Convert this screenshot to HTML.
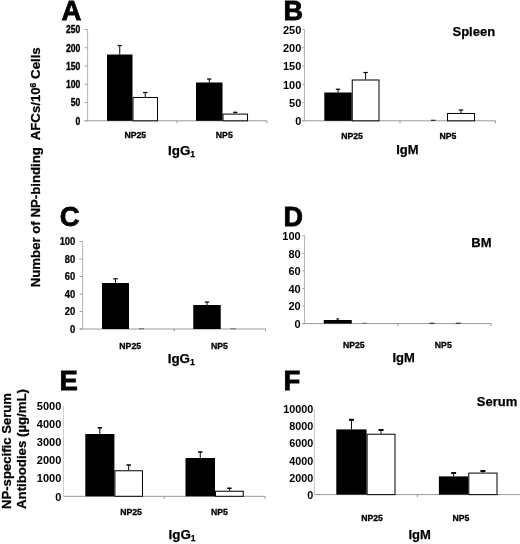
<!DOCTYPE html>
<html><head><meta charset="utf-8"><title>Figure</title>
<style>
html,body{margin:0;padding:0;background:#fff;}
body{width:520px;height:544px;overflow:hidden;}
svg{display:block;will-change:transform;font-family:"Liberation Sans",sans-serif;fill:#000;}
</style></head><body>
<svg width="520" height="544" viewBox="0 0 520 544">
<rect x="0" y="0" width="520" height="544" fill="#fff"/>
<line x1="87.6" y1="29.5" x2="87.6" y2="120.8" stroke="#b4b4b4" stroke-width="1"/>
<line x1="84.6" y1="120.8" x2="267" y2="120.8" stroke="#989898" stroke-width="1"/>
<line x1="177" y1="120.8" x2="177" y2="123.3" stroke="#989898" stroke-width="1"/>
<line x1="267" y1="120.8" x2="267" y2="123.3" stroke="#989898" stroke-width="1"/>
<line x1="84.6" y1="29.5" x2="87.6" y2="29.5" stroke="#a0a0a0" stroke-width="1"/>
<text transform="translate(80.3,33.35) scale(0.86,1)" text-anchor="end" font-size="10" font-weight="bold" stroke="#000" stroke-width="0.35">250</text>
<line x1="84.6" y1="47.76" x2="87.6" y2="47.76" stroke="#a0a0a0" stroke-width="1"/>
<text transform="translate(80.3,51.61) scale(0.86,1)" text-anchor="end" font-size="10" font-weight="bold" stroke="#000" stroke-width="0.35">200</text>
<line x1="84.6" y1="66.02" x2="87.6" y2="66.02" stroke="#a0a0a0" stroke-width="1"/>
<text transform="translate(80.3,69.87) scale(0.86,1)" text-anchor="end" font-size="10" font-weight="bold" stroke="#000" stroke-width="0.35">150</text>
<line x1="84.6" y1="84.28" x2="87.6" y2="84.28" stroke="#a0a0a0" stroke-width="1"/>
<text transform="translate(80.3,88.13) scale(0.86,1)" text-anchor="end" font-size="10" font-weight="bold" stroke="#000" stroke-width="0.35">100</text>
<line x1="84.6" y1="102.54" x2="87.6" y2="102.54" stroke="#a0a0a0" stroke-width="1"/>
<text transform="translate(80.3,106.39) scale(0.86,1)" text-anchor="end" font-size="10" font-weight="bold" stroke="#000" stroke-width="0.35">50</text>
<line x1="84.6" y1="120.8" x2="87.6" y2="120.8" stroke="#a0a0a0" stroke-width="1"/>
<text transform="translate(80.3,124.65) scale(0.86,1)" text-anchor="end" font-size="10" font-weight="bold" stroke="#000" stroke-width="0.35">0</text>
<rect x="107" y="54.5" width="25.5" height="66.3" fill="#000"/>
<line x1="119.75" y1="45.5" x2="119.75" y2="54.5" stroke="#000" stroke-width="1"/>
<line x1="117.55" y1="45.5" x2="121.95" y2="45.5" stroke="#000" stroke-width="1.2"/>
<rect x="133" y="97.5" width="24.5" height="23.3" fill="#fff" stroke="#0a0a0a" stroke-width="1.05"/>
<line x1="145.25" y1="92.5" x2="145.25" y2="97" stroke="#000" stroke-width="1"/>
<line x1="143.05" y1="92.5" x2="147.45" y2="92.5" stroke="#000" stroke-width="1.2"/>
<rect x="196" y="82.5" width="26.5" height="38.3" fill="#000"/>
<line x1="209.25" y1="79" x2="209.25" y2="82.5" stroke="#000" stroke-width="1"/>
<line x1="207.05" y1="79" x2="211.45" y2="79" stroke="#000" stroke-width="1.2"/>
<rect x="223" y="114.1" width="24.5" height="6.7" fill="#fff" stroke="#0a0a0a" stroke-width="1.05"/>
<line x1="235.25" y1="112.3" x2="235.25" y2="113.6" stroke="#000" stroke-width="1"/>
<line x1="233.05" y1="112.3" x2="237.45" y2="112.3" stroke="#000" stroke-width="1.2"/>
<line x1="304.5" y1="29.5" x2="304.5" y2="120.8" stroke="#b4b4b4" stroke-width="1"/>
<line x1="302.3" y1="120.8" x2="495.5" y2="120.8" stroke="#989898" stroke-width="1"/>
<line x1="400" y1="120.8" x2="400" y2="123.3" stroke="#989898" stroke-width="1"/>
<line x1="495.5" y1="120.8" x2="495.5" y2="123.3" stroke="#989898" stroke-width="1"/>
<line x1="302.3" y1="29.5" x2="304.5" y2="29.5" stroke="#a0a0a0" stroke-width="1"/>
<text x="301.3" y="33.73" text-anchor="end" font-size="11" font-weight="bold">250</text>
<line x1="302.3" y1="47.76" x2="304.5" y2="47.76" stroke="#a0a0a0" stroke-width="1"/>
<text x="301.3" y="51.99" text-anchor="end" font-size="11" font-weight="bold">200</text>
<line x1="302.3" y1="66.02" x2="304.5" y2="66.02" stroke="#a0a0a0" stroke-width="1"/>
<text x="301.3" y="70.25" text-anchor="end" font-size="11" font-weight="bold">150</text>
<line x1="302.3" y1="84.28" x2="304.5" y2="84.28" stroke="#a0a0a0" stroke-width="1"/>
<text x="301.3" y="88.52" text-anchor="end" font-size="11" font-weight="bold">100</text>
<line x1="302.3" y1="102.54" x2="304.5" y2="102.54" stroke="#a0a0a0" stroke-width="1"/>
<text x="301.3" y="106.77" text-anchor="end" font-size="11" font-weight="bold">50</text>
<line x1="302.3" y1="120.8" x2="304.5" y2="120.8" stroke="#a0a0a0" stroke-width="1"/>
<text x="301.3" y="125.03" text-anchor="end" font-size="11" font-weight="bold">0</text>
<rect x="324.3" y="92.5" width="27.45" height="28.3" fill="#000"/>
<line x1="338.02" y1="89.25" x2="338.02" y2="92.5" stroke="#000" stroke-width="1"/>
<line x1="335.82" y1="89.25" x2="340.22" y2="89.25" stroke="#000" stroke-width="1.2"/>
<rect x="352.25" y="80" width="26.75" height="40.8" fill="#fff" stroke="#0a0a0a" stroke-width="1.05"/>
<line x1="365.62" y1="72.5" x2="365.62" y2="79.5" stroke="#000" stroke-width="1"/>
<line x1="363.43" y1="72.5" x2="367.82" y2="72.5" stroke="#000" stroke-width="1.2"/>
<rect x="447.5" y="113.5" width="27" height="7.3" fill="#fff" stroke="#0a0a0a" stroke-width="1.05"/>
<line x1="461" y1="110" x2="461" y2="113" stroke="#000" stroke-width="1"/>
<line x1="458.8" y1="110" x2="463.2" y2="110" stroke="#000" stroke-width="1.2"/>
<line x1="431" y1="120.3" x2="435.5" y2="120.3" stroke="#222" stroke-width="1.2"/>
<line x1="82.6" y1="241.5" x2="82.6" y2="329" stroke="#b4b4b4" stroke-width="1"/>
<line x1="79.6" y1="329" x2="265.5" y2="329" stroke="#989898" stroke-width="1"/>
<line x1="174.25" y1="329" x2="174.25" y2="331.5" stroke="#989898" stroke-width="1"/>
<line x1="265.5" y1="329" x2="265.5" y2="331.5" stroke="#989898" stroke-width="1"/>
<line x1="79.6" y1="241.5" x2="82.6" y2="241.5" stroke="#a0a0a0" stroke-width="1"/>
<text transform="translate(75.3,245.35) scale(0.94,1)" text-anchor="end" font-size="10" font-weight="bold" stroke="#000" stroke-width="0.25">100</text>
<line x1="79.6" y1="259" x2="82.6" y2="259" stroke="#a0a0a0" stroke-width="1"/>
<text transform="translate(75.3,262.85) scale(0.94,1)" text-anchor="end" font-size="10" font-weight="bold" stroke="#000" stroke-width="0.25">80</text>
<line x1="79.6" y1="276.5" x2="82.6" y2="276.5" stroke="#a0a0a0" stroke-width="1"/>
<text transform="translate(75.3,280.35) scale(0.94,1)" text-anchor="end" font-size="10" font-weight="bold" stroke="#000" stroke-width="0.25">60</text>
<line x1="79.6" y1="294" x2="82.6" y2="294" stroke="#a0a0a0" stroke-width="1"/>
<text transform="translate(75.3,297.85) scale(0.94,1)" text-anchor="end" font-size="10" font-weight="bold" stroke="#000" stroke-width="0.25">40</text>
<line x1="79.6" y1="311.5" x2="82.6" y2="311.5" stroke="#a0a0a0" stroke-width="1"/>
<text transform="translate(75.3,315.35) scale(0.94,1)" text-anchor="end" font-size="10" font-weight="bold" stroke="#000" stroke-width="0.25">20</text>
<line x1="79.6" y1="329" x2="82.6" y2="329" stroke="#a0a0a0" stroke-width="1"/>
<text transform="translate(75.3,332.85) scale(0.94,1)" text-anchor="end" font-size="10" font-weight="bold" stroke="#000" stroke-width="0.25">0</text>
<rect x="102" y="283" width="27" height="46" fill="#000"/>
<line x1="115.5" y1="278.75" x2="115.5" y2="283" stroke="#000" stroke-width="1"/>
<line x1="113.3" y1="278.75" x2="117.7" y2="278.75" stroke="#000" stroke-width="1.2"/>
<rect x="193.25" y="305" width="27.5" height="24" fill="#000"/>
<line x1="207" y1="302" x2="207" y2="305" stroke="#000" stroke-width="1"/>
<line x1="204.8" y1="302" x2="209.2" y2="302" stroke="#000" stroke-width="1.2"/>
<line x1="139" y1="328.7" x2="144" y2="328.7" stroke="#777" stroke-width="1.2"/>
<line x1="230.5" y1="328.7" x2="235.75" y2="328.7" stroke="#777" stroke-width="1.2"/>
<line x1="304.5" y1="235.75" x2="304.5" y2="323.6" stroke="#b4b4b4" stroke-width="1"/>
<line x1="302.3" y1="323.6" x2="491.25" y2="323.6" stroke="#989898" stroke-width="1"/>
<line x1="398" y1="323.6" x2="398" y2="326.1" stroke="#989898" stroke-width="1"/>
<line x1="491.25" y1="323.6" x2="491.25" y2="326.1" stroke="#989898" stroke-width="1"/>
<line x1="302.3" y1="235.75" x2="304.5" y2="235.75" stroke="#a0a0a0" stroke-width="1"/>
<text x="300.7" y="239.99" text-anchor="end" font-size="11" font-weight="bold">100</text>
<line x1="302.3" y1="253.32" x2="304.5" y2="253.32" stroke="#a0a0a0" stroke-width="1"/>
<text x="300.7" y="257.56" text-anchor="end" font-size="11" font-weight="bold">80</text>
<line x1="302.3" y1="270.89" x2="304.5" y2="270.89" stroke="#a0a0a0" stroke-width="1"/>
<text x="300.7" y="275.12" text-anchor="end" font-size="11" font-weight="bold">60</text>
<line x1="302.3" y1="288.46" x2="304.5" y2="288.46" stroke="#a0a0a0" stroke-width="1"/>
<text x="300.7" y="292.7" text-anchor="end" font-size="11" font-weight="bold">40</text>
<line x1="302.3" y1="306.03" x2="304.5" y2="306.03" stroke="#a0a0a0" stroke-width="1"/>
<text x="300.7" y="310.27" text-anchor="end" font-size="11" font-weight="bold">20</text>
<line x1="302.3" y1="323.6" x2="304.5" y2="323.6" stroke="#a0a0a0" stroke-width="1"/>
<text x="300.7" y="327.84" text-anchor="end" font-size="11" font-weight="bold">0</text>
<rect x="323.75" y="320" width="28" height="3.6" fill="#000"/>
<line x1="337.75" y1="318.9" x2="337.75" y2="320" stroke="#000" stroke-width="1"/>
<line x1="336.25" y1="318.9" x2="339.25" y2="318.9" stroke="#000" stroke-width="1.0"/>
<line x1="362.5" y1="323.3" x2="367" y2="323.3" stroke="#777" stroke-width="1.2"/>
<line x1="429.5" y1="323.3" x2="434.5" y2="323.3" stroke="#333" stroke-width="1.2"/>
<line x1="455.75" y1="323.3" x2="460.75" y2="323.3" stroke="#333" stroke-width="1.2"/>
<line x1="63.4" y1="406" x2="63.4" y2="496.3" stroke="#c8c8c8" stroke-width="1"/>
<line x1="63.4" y1="496.3" x2="265" y2="496.3" stroke="#989898" stroke-width="1"/>
<line x1="164.25" y1="496.3" x2="164.25" y2="498.8" stroke="#989898" stroke-width="1"/>
<line x1="265" y1="496.3" x2="265" y2="498.8" stroke="#989898" stroke-width="1"/>
<text x="61.3" y="410.24" text-anchor="end" font-size="11" font-weight="bold">5000</text>
<text x="61.3" y="428.3" text-anchor="end" font-size="11" font-weight="bold">4000</text>
<text x="61.3" y="446.36" text-anchor="end" font-size="11" font-weight="bold">3000</text>
<text x="61.3" y="464.42" text-anchor="end" font-size="11" font-weight="bold">2000</text>
<text x="61.3" y="482.48" text-anchor="end" font-size="11" font-weight="bold">1000</text>
<text x="61.3" y="500.54" text-anchor="end" font-size="11" font-weight="bold">0</text>
<rect x="85.3" y="434" width="29.1" height="62.3" fill="#000"/>
<line x1="99.85" y1="427.75" x2="99.85" y2="434" stroke="#000" stroke-width="1"/>
<line x1="97.65" y1="427.75" x2="102.05" y2="427.75" stroke="#000" stroke-width="1.5"/>
<rect x="114.9" y="470.75" width="27.6" height="25.55" fill="#fff" stroke="#0a0a0a" stroke-width="1.05"/>
<line x1="128.7" y1="465" x2="128.7" y2="470.25" stroke="#000" stroke-width="1"/>
<line x1="126.5" y1="465" x2="130.9" y2="465" stroke="#000" stroke-width="1.5"/>
<rect x="185.5" y="458" width="29.5" height="38.3" fill="#000"/>
<line x1="200.25" y1="452" x2="200.25" y2="458" stroke="#000" stroke-width="1"/>
<line x1="198.05" y1="452" x2="202.45" y2="452" stroke="#000" stroke-width="1.5"/>
<rect x="215.5" y="491.25" width="27.75" height="5.05" fill="#fff" stroke="#0a0a0a" stroke-width="1.05"/>
<line x1="229.38" y1="488.25" x2="229.38" y2="490.75" stroke="#000" stroke-width="1"/>
<line x1="227.18" y1="488.25" x2="231.57" y2="488.25" stroke="#000" stroke-width="1.5"/>
<line x1="314.4" y1="409" x2="314.4" y2="494.6" stroke="#c4c4c4" stroke-width="1"/>
<line x1="314.4" y1="494.6" x2="520.5" y2="494.6" stroke="#989898" stroke-width="1"/>
<line x1="417.5" y1="494.6" x2="417.5" y2="497.1" stroke="#989898" stroke-width="1"/>
<line x1="520.5" y1="494.6" x2="520.5" y2="497.1" stroke="#989898" stroke-width="1"/>
<text x="313.3" y="413.16" text-anchor="end" font-size="10.8" font-weight="bold">10000</text>
<text x="313.3" y="430.28" text-anchor="end" font-size="10.8" font-weight="bold">8000</text>
<text x="313.3" y="447.4" text-anchor="end" font-size="10.8" font-weight="bold">6000</text>
<text x="313.3" y="464.52" text-anchor="end" font-size="10.8" font-weight="bold">4000</text>
<text x="313.3" y="481.64" text-anchor="end" font-size="10.8" font-weight="bold">2000</text>
<text x="313.3" y="498.76" text-anchor="end" font-size="10.8" font-weight="bold">0</text>
<rect x="336.3" y="429.4" width="30.3" height="65.2" fill="#000"/>
<line x1="351.45" y1="419.8" x2="351.45" y2="429.4" stroke="#000" stroke-width="1"/>
<line x1="348.95" y1="419.8" x2="353.95" y2="419.8" stroke="#000" stroke-width="2"/>
<rect x="367.1" y="434.25" width="27.9" height="60.35" fill="#fff" stroke="#0a0a0a" stroke-width="1.05"/>
<line x1="381.05" y1="430" x2="381.05" y2="433.75" stroke="#000" stroke-width="1"/>
<line x1="378.55" y1="430" x2="383.55" y2="430" stroke="#000" stroke-width="2"/>
<rect x="438.9" y="476.4" width="29.4" height="18.2" fill="#000"/>
<line x1="453.6" y1="473" x2="453.6" y2="476.4" stroke="#000" stroke-width="1"/>
<line x1="451.1" y1="473" x2="456.1" y2="473" stroke="#000" stroke-width="2"/>
<rect x="468.8" y="473.1" width="28.2" height="21.5" fill="#fff" stroke="#0a0a0a" stroke-width="1.05"/>
<line x1="482.9" y1="471" x2="482.9" y2="472.6" stroke="#000" stroke-width="1"/>
<line x1="480.4" y1="471" x2="485.4" y2="471" stroke="#000" stroke-width="2"/>
<text x="61.6" y="20.3" font-size="27.5" font-weight="bold" text-anchor="start" stroke="#000" stroke-width="0.8" stroke-linejoin="miter">A</text>
<text x="283.4" y="20.3" font-size="27" font-weight="bold" text-anchor="start" stroke="#000" stroke-width="0.8" stroke-linejoin="miter">B</text>
<text x="59.8" y="225.8" font-size="27.5" font-weight="bold" text-anchor="start" stroke="#000" stroke-width="0.8" stroke-linejoin="miter">C</text>
<text x="283.4" y="226" font-size="27" font-weight="bold" text-anchor="start" stroke="#000" stroke-width="0.8" stroke-linejoin="miter">D</text>
<text x="59.6" y="390" font-size="27.5" font-weight="bold" text-anchor="start" stroke="#000" stroke-width="0.8" stroke-linejoin="miter">E</text>
<text x="283.6" y="390" font-size="27.5" font-weight="bold" text-anchor="start" stroke="#000" stroke-width="0.8" stroke-linejoin="miter">F</text>
<text x="135.3" y="137.9" font-size="8.7" font-weight="bold" text-anchor="middle" stroke="#000" stroke-width="0.3">NP25</text>
<text x="224.3" y="137.9" font-size="8.7" font-weight="bold" text-anchor="middle" stroke="#000" stroke-width="0.3">NP5</text>
<text x="352.1" y="138.5" font-size="8.7" font-weight="bold" text-anchor="middle" stroke="#000" stroke-width="0.3">NP25</text>
<text x="448" y="138.5" font-size="8.7" font-weight="bold" text-anchor="middle" stroke="#000" stroke-width="0.3">NP5</text>
<text x="130.2" y="348.9" font-size="8.7" font-weight="bold" text-anchor="middle" stroke="#000" stroke-width="0.3">NP25</text>
<text x="219.5" y="348.9" font-size="8.7" font-weight="bold" text-anchor="middle" stroke="#000" stroke-width="0.3">NP5</text>
<text x="353.8" y="348.2" font-size="8.7" font-weight="bold" text-anchor="middle" stroke="#000" stroke-width="0.3">NP25</text>
<text x="443.3" y="348.2" font-size="8.7" font-weight="bold" text-anchor="middle" stroke="#000" stroke-width="0.3">NP5</text>
<text x="131" y="515" font-size="8.7" font-weight="bold" text-anchor="middle" stroke="#000" stroke-width="0.3">NP25</text>
<text x="219.4" y="515" font-size="8.7" font-weight="bold" text-anchor="middle" stroke="#000" stroke-width="0.3">NP5</text>
<text x="372.1" y="521.2" font-size="8.7" font-weight="bold" text-anchor="middle" stroke="#000" stroke-width="0.3">NP25</text>
<text x="461" y="521.2" font-size="8.7" font-weight="bold" text-anchor="middle" stroke="#000" stroke-width="0.3">NP5</text>
<text x="168" y="154.5" font-size="13.4" font-weight="bold" stroke="#000" stroke-width="0.25">IgG<tspan font-size="8.6" dy="2.8">1</tspan></text>
<text x="396.2" y="154.3" font-size="13" font-weight="bold" text-anchor="start" stroke="#000" stroke-width="0.25">IgM</text>
<text x="167.7" y="362.5" font-size="13.4" font-weight="bold" stroke="#000" stroke-width="0.25">IgG<tspan font-size="8.6" dy="2.8">1</tspan></text>
<text x="392.5" y="362" font-size="13" font-weight="bold" text-anchor="start" stroke="#000" stroke-width="0.25">IgM</text>
<text x="168.5" y="538.5" font-size="13.4" font-weight="bold" stroke="#000" stroke-width="0.25">IgG<tspan font-size="8.6" dy="2.8">1</tspan></text>
<text x="408.5" y="538.5" font-size="13" font-weight="bold" text-anchor="start" stroke="#000" stroke-width="0.25">IgM</text>
<text x="452.5" y="36.3" font-size="13" font-weight="bold" text-anchor="start" stroke="#000" stroke-width="0.25">Spleen</text>
<text x="471.25" y="246.5" font-size="13" font-weight="bold" text-anchor="start" stroke="#000" stroke-width="0.25">BM</text>
<text x="476.75" y="406.2" font-size="13" font-weight="bold" text-anchor="start" stroke="#000" stroke-width="0.25">Serum</text>
<text transform="translate(40.1,287.3) rotate(-90)" font-size="13" font-weight="bold" stroke="#000" stroke-width="0.25" textLength="240" lengthAdjust="spacingAndGlyphs" xml:space="preserve">Number of NP-binding  AFCs/10<tspan font-size="8.5" dy="-4">6</tspan><tspan dy="4"> Cells</tspan></text>
<text transform="translate(11,509) rotate(-90)" font-size="13" font-weight="bold" stroke="#000" stroke-width="0.25" textLength="116" lengthAdjust="spacingAndGlyphs">NP-specific Serum</text>
<text transform="translate(26,509) rotate(-90)" font-size="13" font-weight="bold" stroke="#000" stroke-width="0.25" textLength="120" lengthAdjust="spacingAndGlyphs">Antibodies (µg/mL)</text>
</svg>
</body></html>
